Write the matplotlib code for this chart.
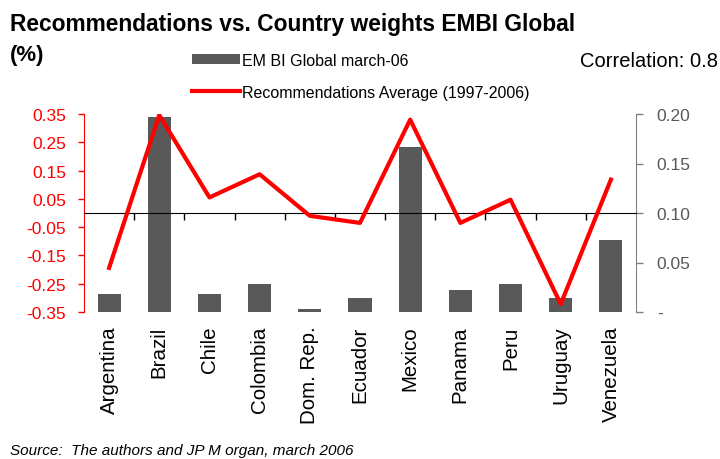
import matplotlib.pyplot as plt
from matplotlib.transforms import blended_transform_factory
import numpy as np

plt.rcParams['font.family'] = ['Liberation Sans', 'DejaVu Sans']

countries = ["Argentina", "Brazil", "Chile", "Colombia", "Dom. Rep.", "Ecuador",
             "Mexico", "Panama", "Peru", "Uruguay", "Venezuela"]
embi_weights = [0.018, 0.197, 0.018, 0.028, 0.003, 0.014,
                0.167, 0.022, 0.028, 0.014, 0.073]
recommendations = [-0.194, 0.346, 0.055, 0.137, -0.010, -0.035,
                   0.330, -0.035, 0.047, -0.322, 0.118]
left_ticks = [-0.35, -0.25, -0.15, -0.05, 0.05, 0.15, 0.25, 0.35]
right_ticks = [0, 0.05, 0.10, 0.15, 0.20]
right_labels = ["-", "0.05", "0.10", "0.15", "0.20"]

x = np.arange(len(countries))

fig = plt.figure(figsize=(7.2, 4.6), dpi=100)
ax = fig.add_axes([84 / 720, 1 - 313 / 460, 552 / 720, 198 / 460])
ax2 = ax.twinx()

# bars on the right axis, line on the left axis (drawn on top)
bars = ax2.bar(x, embi_weights, width=0.46, color="#595959", zorder=2,
               label="EM BI Global march-06")
ax2.set_ylim(0, 0.20)
ax2.set_yticks(right_ticks)
ax2.set_yticklabels(right_labels)
ax2.tick_params(axis="y", labelcolor="#595959", color="#808080", labelsize=12.5,
                length=5, width=1, pad=10)
for s in ["top", "left", "bottom"]:
    ax2.spines[s].set_visible(False)
ax2.spines["right"].set_color("#808080")

ax.set_zorder(ax2.get_zorder() + 1)
ax.patch.set_visible(False)
line, = ax.plot(x, recommendations, color="red", lw=3,
                label="Recommendations Average (1997-2006)", zorder=3)
ax.set_ylim(-0.35, 0.35)
ax.set_xlim(-0.5, len(countries) - 0.5)
ax.set_yticks(left_ticks)
ax.set_yticklabels([f"{v:.2f}" for v in left_ticks])
ax.tick_params(axis="y", colors="red", labelsize=12.5, length=4, width=1, pad=9)
ax.spines["left"].set_color("red")
ax.spines["top"].set_visible(False)
ax.spines["right"].set_visible(False)

# category axis crossing at zero, with ticks between categories
ax.spines["bottom"].set_position(("data", 0))
ax.spines["bottom"].set_color("black")
ax.spines["bottom"].set_zorder(2.5)
ax.set_xticks([])
ax.set_xticks(np.arange(len(countries) - 1) + 0.5, minor=True)
ax.tick_params(axis="x", which="minor", length=5, width=1, color="black",
               direction="out")

trans = blended_transform_factory(ax.transData, ax.transAxes)
for i, c in enumerate(countries):
    ax.text(i, -0.068, c, rotation=90, ha="center", va="top", fontsize=14.8,
            transform=trans)

fig.text(10 / 720, 1 - 31 / 460, "Recommendations vs. Country weights EMBI Global",
         fontsize=16.4, fontweight="bold", va="baseline", ha="left")
fig.text(10 / 720, 1 - 61 / 460, "(%)", fontsize=16, fontweight="bold",
         va="baseline", ha="left")
fig.text(718 / 720, 1 - 67 / 460, "Correlation: 0.8", fontsize=14.5,
         va="baseline", ha="right")
fig.text(10 / 720, 1 - 455 / 460, "Source:  The authors and JP M organ, march 2006",
         fontsize=11, style="italic", va="baseline", ha="left")

fig.legend([bars, line], [bars.get_label(), line.get_label()],
           loc="upper left", bbox_to_anchor=(184 / 720, 1 - 46 / 460),
           frameon=False, fontsize=11.5, handlelength=3, handleheight=0.6,
           handletextpad=0.1, labelspacing=1.05, borderpad=0)

fig.savefig("out.png", dpi=100)
